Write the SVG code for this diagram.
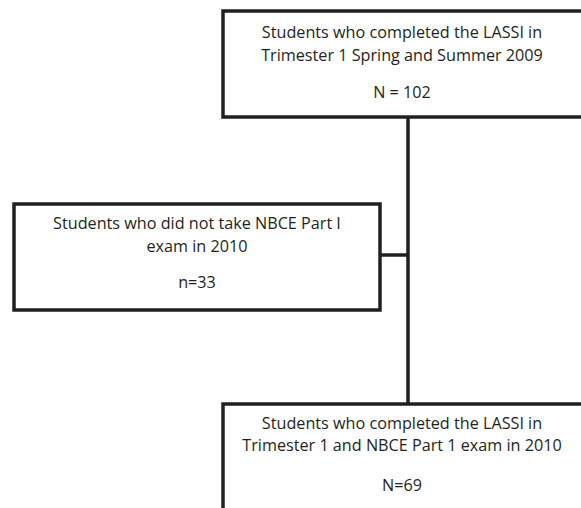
<svg xmlns="http://www.w3.org/2000/svg" width="581" height="508" viewBox="0 0 581 508">
<style>
.box{fill:#fff;stroke:#231f20;stroke-width:3.5}
.t{font-family:"Open Sans","Liberation Sans",sans-serif;font-size:16.2px;fill:#231f20;text-anchor:middle}
.c{stroke:#231f20;stroke-width:3.5;fill:none}
</style>
<rect width="581" height="508" fill="#fff"/>
<g id="connectors">
<line class="c" x1="408" y1="117" x2="408" y2="404"/>
<line class="c" x1="380" y1="255" x2="408" y2="255"/>
</g>
<g id="top">
<rect class="box" x="223" y="11" width="370" height="106"/>
<text class="t" x="402" y="38">Students who completed the LASSI in</text>
<text class="t" x="402" y="61">Trimester 1 Spring and Summer 2009</text>
<text class="t" x="402" y="98">N = 102</text>
</g>
<g id="left">
<rect class="box" x="14" y="204" width="366" height="106"/>
<text class="t" x="197" y="229">Students who did not take NBCE Part I</text>
<text class="t" x="197" y="252">exam in 2010</text>
<text class="t" x="197" y="288">n=33</text>
</g>
<g id="bottom">
<rect class="box" x="223" y="404" width="370" height="120"/>
<text class="t" x="402" y="429">Students who completed the LASSI in</text>
<text class="t" x="402" y="451">Trimester 1 and NBCE Part 1 exam in 2010</text>
<text class="t" x="402" y="491">N=69</text>
</g>
</svg>
